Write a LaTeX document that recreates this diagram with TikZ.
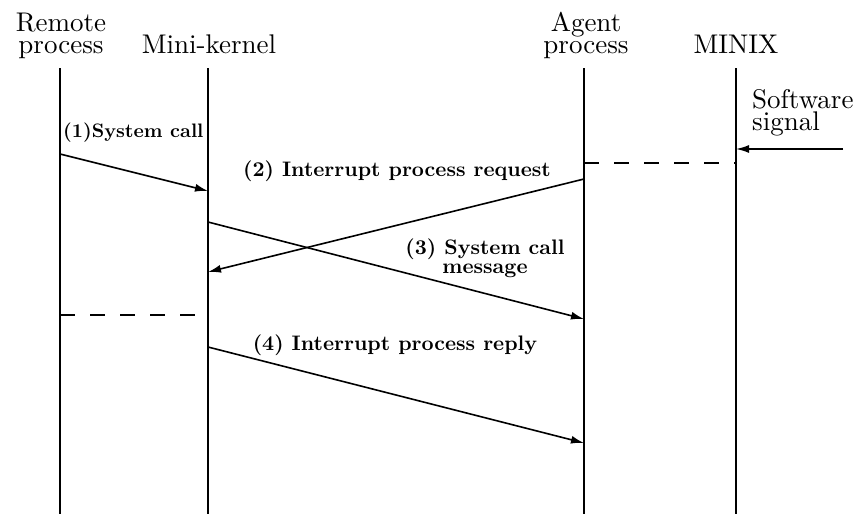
\documentclass[tikz,border=0pt]{standalone}
\usepackage{fontspec}
% the 10pt design of Latin Modern at every size (wider letters than the 17pt cut)
\setmainfont{lmroman10-regular}[Extension=.otf,BoldFont=lmroman10-bold]
\usetikzlibrary{arrows.meta}
\begin{document}
\begin{tikzpicture}[x=1pt,y=-1pt,
  life/.style={line width=2.2pt},
  msg/.style={line width=1.6pt,-{Latex[length=13pt,width=8pt]}},
  sep/.style={line width=1.6pt,dash pattern=on 15pt off 15pt},
  hd/.style={inner sep=0pt,anchor=base,align=center,font=\fontsize{27}{22}\selectfont},
  lbl/.style={inner sep=0pt,anchor=base,align=center,font=\fontsize{21}{19}\selectfont\bfseries},
  smalllbl/.style={inner sep=0pt,anchor=base west,font=\fontsize{19.5}{21}\selectfont\bfseries}]
\useasboundingbox (0,0) rectangle (866,514);

% column headings (anchored at the baseline of the last line)
\node[hd] (remote) at (61,53) {Remote\\process};
\node[hd] (kernel) at (209,53) {Mini-kernel};
\node[hd] (agent) at (586,53) {Agent\\process};
\node[hd] (minix) at (736,53) {MINIX};
\node[hd,anchor=base west,align=left] (soft) at (752,130) {Software\\signal};

% lifelines
\coordinate (remT) at (60,68);  \coordinate (remB) at (60,514);
\coordinate (kerT) at (208,68); \coordinate (kerB) at (208,514);
\coordinate (agtT) at (584,68); \coordinate (agtB) at (584,514);
\coordinate (mnxT) at (736,68); \coordinate (mnxB) at (736,514);
\draw[life] (remT) -- (remB);
\draw[life] (kerT) -- (kerB);
\draw[life] (agtT) -- (agtB);
\draw[life] (mnxT) -- (mnxB);

% message end points
\coordinate (m1s) at (60,154);  \coordinate (m1e) at (208,191);
\coordinate (m2s) at (584,179); \coordinate (m2e) at (208,272);
\coordinate (m3s) at (208,222); \coordinate (m3e) at (584,319);
\coordinate (m4s) at (208,347); \coordinate (m4e) at (584,443);
\coordinate (sigS) at (843,149); \coordinate (sigE) at (736,149);
\coordinate (d1s) at (584,163); \coordinate (d1e) at (736,163);
\coordinate (d2s) at (60,315);  \coordinate (d2e) at (208,315);

% messages
\draw[msg] (m1s) -- (m1e);
\draw[msg] (m2s) -- (m2e);
\draw[msg] (m3s) -- (m3e);
\draw[msg] (m4s) -- (m4e);
\draw[msg] (sigS) -- (sigE);

% dashed separators
\draw[sep] (d1s) -- (d1e);
\draw[sep] (d2s) -- (d2e);

% message labels
\node[smalllbl] (l1) at (63,137) {(1)System call};
\node[lbl] (l2) at (397,176) {(2) Interrupt process request};
\node[lbl] (l3) at (485,273) {(3) System call\\message};
\node[lbl] (l4) at (395,350) {(4) Interrupt process reply};
\end{tikzpicture}
\end{document}
